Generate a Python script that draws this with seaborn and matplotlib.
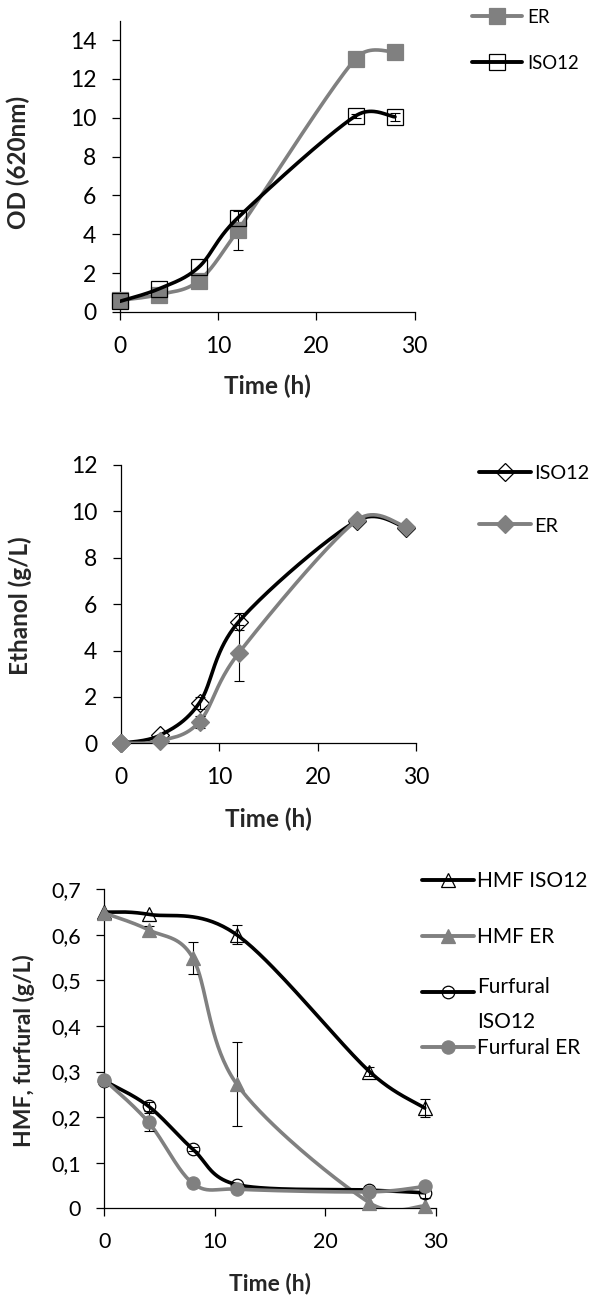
import numpy as np
import matplotlib
matplotlib.use("Agg")
import matplotlib.pyplot as plt
from matplotlib.lines import Line2D
from matplotlib.ticker import FuncFormatter
import seaborn as sns

# ---------------- data ----------------
od_time = [0, 4, 8, 12, 24, 28]
od_er = [0.6, 0.9, 1.6, 4.2, 13.05, 13.4]
od_er_err = [0, 0, 0, 1.0, 0, 0]
od_iso = [0.55, 1.2, 2.3, 4.85, 10.1, 10.05]
od_iso_err = [0, 0, 0, 0, 0.1, 0.2]

eth_time = [0, 4, 8, 12, 24, 29]
eth_iso = [0.0, 0.35, 1.75, 5.25, 9.6, 9.3]
eth_iso_err = [0, 0, 0.25, 0.35, 0, 0]
eth_er = [0.0, 0.1, 0.93, 3.9, 9.62, 9.33]
eth_er_err = [0, 0, 0.25, 1.2, 0, 0]

hmf_iso_time = [0, 4, 12, 24, 29]
hmf_iso = [0.65, 0.645, 0.60, 0.30, 0.22]
hmf_iso_err = [0, 0, 0.021, 0.01, 0.02]
inh_time = [0, 4, 8, 12, 24, 29]
hmf_er = [0.648, 0.611, 0.55, 0.272, 0.012, 0.005]
hmf_er_err = [0, 0.008, 0.035, 0.092, 0, 0]
fur_iso = [0.28, 0.224, 0.13, 0.052, 0.04, 0.034]
fur_iso_err = [0, 0.01, 0.005, 0, 0, 0.012]
fur_er = [0.282, 0.189, 0.055, 0.042, 0.036, 0.048]
fur_er_err = [0, 0.02, 0.006, 0, 0, 0]

x_ticks = [0, 10, 20, 30]
od_ticks = [0, 2, 4, 6, 8, 10, 12, 14]
eth_ticks = [0, 2, 4, 6, 8, 10, 12]
inh_ticks = [0, 0.1, 0.2, 0.3, 0.4, 0.5, 0.6, 0.7]

od_labels = ["ER", "ISO12"]
eth_labels = ["ISO12", "ER"]
inh_labels = ["HMF ISO12", "HMF ER", "Furfural\nISO12", "Furfural ER"]

# ---------------- style ----------------
sns.set_theme(style="ticks")
plt.rcParams["font.family"] = ["Lato", "DejaVu Sans"]

GRAY = "#808080"
BLACK = "#000000"
W, H = 600, 1306
LW = 2.6


def excel_smooth(ax, x, y, n=40):
    """Excel-like smoothed line: Bezier segments through the data points,
    control points built in screen space (tension 1/6, limited to half the segment)."""
    P = ax.transData.transform(np.column_stack([x, y]).astype(float))
    m = len(P)
    pts = [P[0]]
    t = np.linspace(0, 1, n)[1:, None]
    for i in range(m - 1):
        p0 = P[i - 1] if i > 0 else P[i]
        p1 = P[i]
        p2 = P[i + 1]
        p3 = P[i + 2] if i + 2 < m else P[i + 1]
        d12 = np.linalg.norm(p2 - p1)
        t1 = (p2 - p0) / 6.0
        t2 = (p3 - p1) / 6.0
        for tv in (t1, t2):
            nv = np.linalg.norm(tv)
            if nv > d12 / 2 and nv > 0:
                tv *= (d12 / 2) / nv
        c1 = p1 + t1
        c2 = p2 - t2
        seg = (1 - t) ** 3 * p1 + 3 * (1 - t) ** 2 * t * c1 + 3 * (1 - t) * t ** 2 * c2 + t ** 3 * p2
        pts.extend(seg)
    pts = ax.transData.inverted().transform(np.array(pts))
    return pts[:, 0], pts[:, 1]


def draw_series(ax, x, y, err, color, marker, ms, filled, z):
    sx, sy = excel_smooth(ax, x, y)
    sns.lineplot(x=sx, y=sy, sort=False, estimator=None, color=color, lw=LW,
                 ax=ax, zorder=z, legend=False)
    x_a = np.asarray(x, float)
    y_a = np.asarray(y, float)
    e_a = np.asarray(err, float)
    msk = e_a > 0
    if msk.any():
        ax.errorbar(x_a[msk], y_a[msk], yerr=e_a[msk], fmt="none", ecolor="black",
                    elinewidth=0.8, capsize=3.6, capthick=0.8, zorder=z + 0.1)
    sns.lineplot(x=x, y=y, sort=False, estimator=None, ls="", marker=marker, ms=ms,
                 mfc=color if filled else "none", mec=color if filled else "black",
                 mew=0.9, color=color, ax=ax, zorder=z + 0.2, clip_on=False, legend=False)


def legend_entry(fig, x0, x1, y, tx, ty, label, color, marker, ms, filled, fs):
    Y = 1 - y / H
    fig.add_artist(Line2D([x0 / W, (x0 + x1) / 2 / W, x1 / W], [Y, Y, Y],
                          transform=fig.transFigure, color=color, lw=2.8,
                          marker=marker, markevery=[1], ms=ms,
                          mfc=color if filled else "none",
                          mec=color if filled else "black", mew=0.9))
    fig.text(tx / W, 1 - ty / H, label, fontsize=fs, va="baseline", ha="left",
             linespacing=1.95, color="black")


def make_axes(fig, rect, ylim):
    ax = fig.add_axes(rect)
    ax.set_xlim(0, 30)
    ax.set_ylim(*ylim)
    return ax


def style_axes(ax, yticks, ylim, tick_fs, label_fs, xlabel, ylabel, xl_y, yl_x, yl_y):
    ax.set_xlim(0, 30)
    ax.set_ylim(*ylim)
    ax.set_xticks(x_ticks)
    ax.set_yticks(yticks)
    sns.despine(ax=ax)
    for s in ("left", "bottom"):
        ax.spines[s].set_color("black")
        ax.spines[s].set_linewidth(0.9)
    ax.tick_params(axis="both", direction="out", length=6, width=0.9, color="black",
                   labelsize=tick_fs, pad=11, labelcolor="black")
    ax.set_xlabel(xlabel, fontsize=label_fs, fontweight="bold", va="center")
    ax.set_ylabel(ylabel, fontsize=label_fs, fontweight="bold", va="center")
    ax.xaxis.set_label_coords(0.5, xl_y)
    ax.yaxis.set_label_coords(yl_x, yl_y)
    ax.set_facecolor("white")
    ax.grid(False)


fig = plt.figure(figsize=(W / 100, H / 100), dpi=100)
fig.patch.set_facecolor("white")

# ---- panel 1: OD ----
ax1 = make_axes(fig, [120 / W, (H - 312) / H, 294.6 / W, 291.3 / H], (0, 15))
draw_series(ax1, od_time, od_er, od_er_err, GRAY, "s", 11.5, True, 3)
draw_series(ax1, od_time, od_iso, od_iso_err, BLACK, "s", 11.5, False, 4)
style_axes(ax1, od_ticks, (0, 15), 16.5, 17.5, "Time (h)", "OD (620nm)",
           -0.256, -0.346, 0.515)
legend_entry(fig, 472, 522, 15.7, 527, 23.3, od_labels[0], GRAY, "s", 11.5, True, 13.4)
legend_entry(fig, 472, 522, 61.7, 527, 69.3, od_labels[1], BLACK, "s", 11.5, False, 13.4)

# ---- panel 2: Ethanol ----
ax2 = make_axes(fig, [120.8 / W, (H - 743.3) / H, 295.2 / W, 278.3 / H], (0, 12))
draw_series(ax2, eth_time, eth_iso, eth_iso_err, BLACK, "D", 8.7, False, 3)
draw_series(ax2, eth_time, eth_er, eth_er_err, GRAY, "D", 8.7, True, 4)
style_axes(ax2, eth_ticks, (0, 12), 16.5, 17.5, "Time (h)", "Ethanol (g/L)",
           -0.274, -0.341, 0.493)
legend_entry(fig, 479, 531, 471.7, 534, 479.3, eth_labels[0], BLACK, "D", 8.7, False, 14.3)
legend_entry(fig, 479, 531, 524, 534, 531.7, eth_labels[1], GRAY, "D", 8.7, True, 14.3)

# ---- panel 3: HMF / furfural ----
ax3 = make_axes(fig, [104.3 / W, (H - 1208.3) / H, 331.5 / W, 319 / H], (0, 0.7))
draw_series(ax3, hmf_iso_time, hmf_iso, hmf_iso_err, BLACK, "^", 9.5, False, 3)
draw_series(ax3, inh_time, hmf_er, hmf_er_err, GRAY, "^", 9.5, True, 4)
draw_series(ax3, inh_time, fur_iso, fur_iso_err, BLACK, "o", 9.0, False, 5)
draw_series(ax3, inh_time, fur_er, fur_er_err, GRAY, "o", 9.5, True, 6)
style_axes(ax3, inh_ticks, (0, 0.7), 15.5, 16.5, "Time (h)", "HMF, furfural (g/L)",
           -0.237, -0.242, 0.493)
ax3.yaxis.set_major_formatter(FuncFormatter(
    lambda v, p: "0" if abs(v) < 1e-9 else f"{v:.1f}".replace(".", ",")))
legend_entry(fig, 422, 474, 879.5, 477, 886.7, inh_labels[0], BLACK, "^", 9.5, False, 15)
legend_entry(fig, 422, 474, 935.8, 477, 943.2, inh_labels[1], GRAY, "^", 9.5, True, 15)
legend_entry(fig, 422, 474, 991.7, 477, 1028.3, inh_labels[2], BLACK, "o", 9.0, False, 15)
legend_entry(fig, 422, 474, 1046.5, 477, 1054.0, inh_labels[3], GRAY, "o", 9.5, True, 15)

fig.savefig("out.png", dpi=100, facecolor="white")
